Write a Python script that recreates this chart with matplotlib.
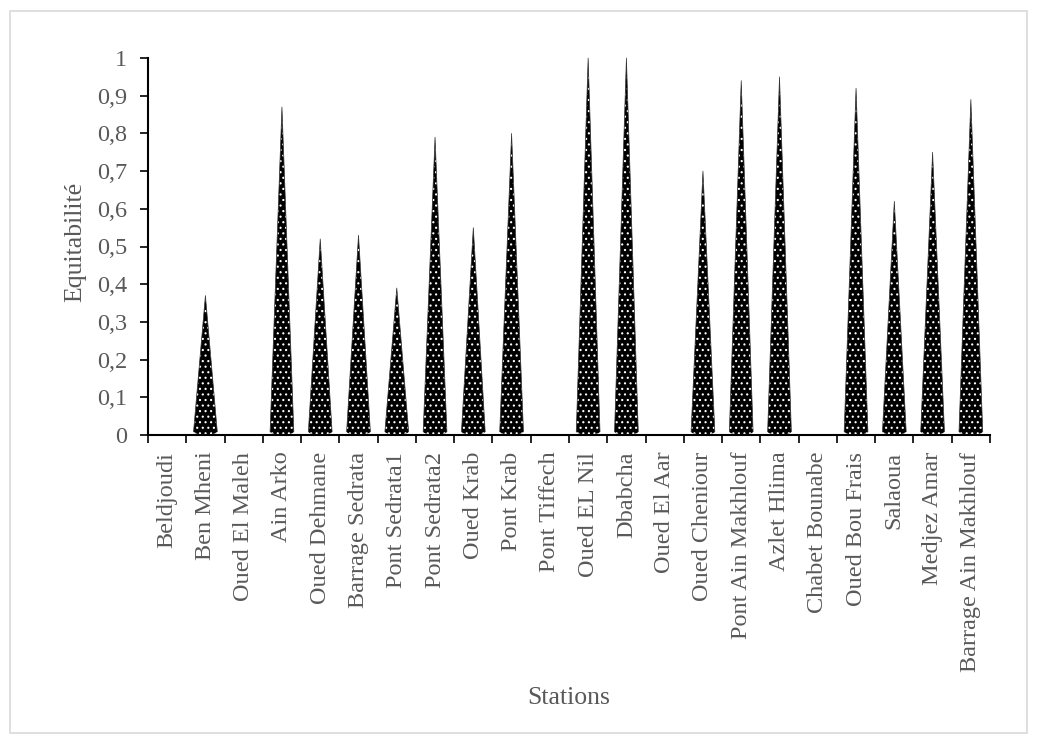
import numpy as np
import matplotlib.pyplot as plt

stations = ["Beldjoudi", "Ben Mheni", "Oued El Maleh", "Ain Arko", "Oued Dehmane",
            "Barrage Sedrata", "Pont Sedrata1", "Pont Sedrata2", "Oued Krab", "Pont Krab",
            "Pont Tiffech", "Oued EL Nil", "Dbabcha", "Oued El Aar", "Oued Cheniour",
            "Pont Ain Makhlouf", "Azlet Hlima", "Chabet Bounabe", "Oued Bou Frais",
            "Salaoua", "Medjez Amar", "Barrage Ain Makhlouf"]
equitabilite = [0, 0.37, 0, 0.87, 0.52, 0.53, 0.39, 0.79, 0.55, 0.80,
                0, 1.0, 1.0, 0, 0.70, 0.94, 0.95, 0, 0.92, 0.62, 0.75, 0.89]
yticks = [0, 0.1, 0.2, 0.3, 0.4, 0.5, 0.6, 0.7, 0.8, 0.9, 1]

plt.rcParams['font.family'] = ['Liberation Serif', 'DejaVu Serif']
plt.rcParams['hatch.linewidth'] = 0.8
grey = '#595959'

fig = plt.figure(figsize=(10.39, 7.44), dpi=100)
# cadre gris autour du graphique
fig.patches.append(plt.Rectangle((10 / 1039, 11 / 744), 1017 / 1039, 722 / 744,
                                 transform=fig.transFigure, fill=False,
                                 edgecolor='#d9d9d9', linewidth=1.2))
ax = fig.add_axes([148 / 1039, 1 - 435 / 744, 842 / 1039, 377 / 744])

w = 0.62
t = np.linspace(0, np.pi, 30)
for i, v in enumerate(equitabilite):
    if v <= 0:
        continue
    base = 0.009
    xs = [i - w / 2, i, i + w / 2] + list(i + w / 2 * np.cos(t))
    ys = [base, v, base] + list(base - 0.008 * np.sin(t))
    ax.fill(xs, ys, facecolor='black', edgecolor='white', hatch='...',
            linewidth=0, clip_on=False, zorder=2)
    ax.plot([i - w / 2, i, i + w / 2], [base, v, base], color='#333333',
            linewidth=0.5, clip_on=False, zorder=3)

ax.set_xlim(-0.5, len(stations) - 0.5)
ax.set_ylim(0, 1)
ax.set_yticks(yticks)
ax.set_yticklabels([('%g' % y).replace('.', ',') for y in yticks])
ax.set_xticks(np.arange(len(stations)))
ax.set_xticklabels(stations, rotation=90)
ax.set_xticks(np.arange(len(stations) + 1) - 0.5, minor=True)
ax.tick_params(axis='x', which='major', length=0, pad=12, labelsize=17.5, labelcolor=grey)
ax.tick_params(axis='x', which='minor', length=6, width=1.2, direction='out')
ax.tick_params(axis='y', length=6, width=1.2, direction='out', labelsize=17.5,
               labelcolor=grey, pad=9)
for s in ['top', 'right']:
    ax.spines[s].set_visible(False)
for s in ['left', 'bottom']:
    ax.spines[s].set_linewidth(1.5)

fig.text(75 / 1039, 1 - 242 / 744, 'Equitabilité', fontsize=18.5, color=grey,
         rotation=90, ha='center', va='center')
fig.text(569 / 1039, 1 - 698 / 744, 'Stations', fontsize=18.5, color=grey,
         ha='center', va='center')

plt.savefig('out.png', dpi=100)
